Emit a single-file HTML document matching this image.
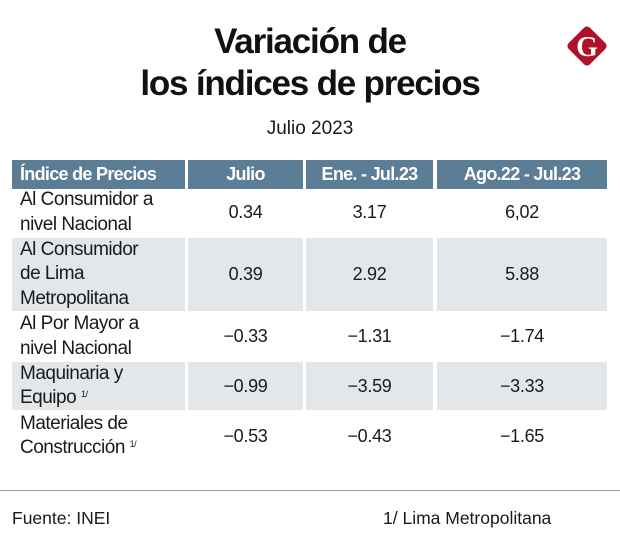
<!DOCTYPE html>
<html><head><meta charset="utf-8"><style>
body{margin:0;width:620px;height:558px;background:#fff;position:relative;font-family:"Liberation Sans",sans-serif;color:#1a1a1a;overflow:hidden}
.t{position:absolute;left:0;width:620px;text-align:center;font-weight:bold;font-size:35px;letter-spacing:-1.2px;color:#111}
.sub{position:absolute;left:0;width:620px;text-align:center;top:118px;font-size:19px}
.c{position:absolute;box-sizing:border-box}
.h{background:#5b7d95;color:#fff;font-weight:bold;font-size:18px;letter-spacing:-0.7px;text-align:center;line-height:29px;top:160px;height:29px}
.g{background:#e3e7ea}
.lab{font-size:19px;letter-spacing:-0.5px;line-height:24.5px;padding-left:8px;display:flex;align-items:center}
.v{font-size:18px;letter-spacing:-0.3px;display:flex;align-items:center;justify-content:center}
.f{position:absolute;top:508px;font-size:17.5px}
sup{font-size:9px;vertical-align:6px;line-height:0}
</style></head><body>
<div class="t" style="top:22px">Variación de</div>
<div class="t" style="top:64px">los índices de precios</div>
<div class="sub">Julio 2023</div>
<svg style="position:absolute;left:562px;top:21px" width="50" height="50"><rect x="10" y="10" width="30" height="30" rx="4" fill="#b0112a" transform="rotate(45 25 25)"/><text x="25" y="35" text-anchor="middle" font-family="Liberation Serif,serif" font-weight="bold" font-size="28" fill="#fff">G</text></svg>
<div class="c h" style="left:12px;width:173px;text-align:left;padding-left:8px">Índice de Precios</div>
<div class="c h" style="left:188px;width:115px">Julio</div>
<div class="c h" style="left:306px;width:127px">Ene. - Jul.23</div>
<div class="c h" style="left:437px;width:170px">Ago.22 - Jul.23</div>
<div id="rows"></div>
<div class="c" style="left:0;top:490px;width:620px;height:1px;background:#999"></div>
<div class="f" style="left:12px">Fuente: INEI</div>
<div class="f" style="left:383px">1/ Lima Metropolitana</div>
<script>
const labels=["Al Consumidor a<br>nivel Nacional","Al Consumidor<br>de Lima<br>Metropolitana","Al Por Mayor a<br>nivel Nacional","Maquinaria y<br>Equipo <sup>1/</sup>","Materiales de<br>Construcción <sup>1/</sup>"];
const julio=["0.34","0.39","-0.33","-0.99","-0.53"];
const eneJul=["3.17","2.92","-1.31","-3.59","-0.43"];
const agoJul=["6,02","5.88","-1.74","-3.33","-1.65"];
const tops=[189,238,313,362,412,462];
const cols=[[12,173],[188,115],[306,127],[437,170]];
const host=document.getElementById('rows');
labels.forEach((l,i)=>{
  const vals=[l,julio[i],eneJul[i],agoJul[i]];
  cols.forEach((c,j)=>{
    const d=document.createElement('div');
    d.className='c '+(j?'v':'lab')+(i%2?' g':'');
    d.style.left=c[0]+'px';d.style.width=c[1]+'px';
    d.style.top=tops[i]+'px';d.style.height=(tops[i+1]-tops[i]-2)+'px';
    d.innerHTML='<span>'+(j?String(vals[j]).replace('-','−'):vals[j])+'</span>';
    
    
    host.appendChild(d);
  });
});
</script>
</body></html>
